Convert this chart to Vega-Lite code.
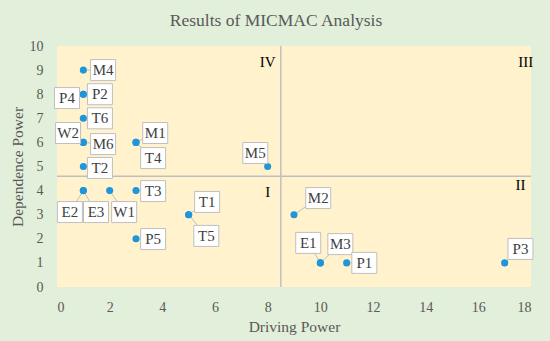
{
  "$schema": "https://vega.github.io/schema/vega-lite/v6.json",
  "width": 474,
  "height": 241,
  "autosize": {"type": "none"},
  "padding": {"left": 57, "top": 46, "right": 19, "bottom": 54},
  "background": "#E2EFDA",
  "config": {
    "view": {"fill": "#FFF2CC", "stroke": null},
    "font": "Liberation Serif",
    "axis": {
      "domain": false, "ticks": false, "tickSize": 0, "grid": false, "labelOverlap": false,
      "labelColor": "#595959", "labelFontSize": 14, "labelFont": "Liberation Serif",
      "titleColor": "#595959", "titleFontSize": 15.5, "titleFont": "Liberation Serif", "titleFontWeight": "normal"
    },
    "axisX": {"labelPadding": 13, "titlePadding": 5, "tickCount": 9},
    "axisY": {"labelPadding": 14, "titlePadding": 4, "tickCount": 10}
  },
  "title": {"text": "Results of MICMAC Analysis", "fontSize": 17.5, "font": "Liberation Serif", "fontWeight": "normal", "color": "#595959", "offset": 10, "dx": -18},
  "datasets": {
    "pts": [
      {"id": "M4", "x": 1, "y": 9, "lx": 1.75, "ly": 9.0},
      {"id": "P2", "x": 1, "y": 8, "lx": 1.63, "ly": 8.0},
      {"id": "P4", "x": 1, "y": 8, "lx": 0.38, "ly": 7.84},
      {"id": "T6", "x": 1, "y": 7, "lx": 1.63, "ly": 7.0},
      {"id": "W2", "x": 1, "y": 6, "lx": 0.42, "ly": 6.39},
      {"id": "M6", "x": 1, "y": 6, "lx": 1.75, "ly": 5.93},
      {"id": "T2", "x": 1, "y": 5, "lx": 1.63, "ly": 4.94},
      {"id": "M1", "x": 3, "y": 6, "lx": 3.73, "ly": 6.39},
      {"id": "T4", "x": 3, "y": 6, "lx": 3.65, "ly": 5.35},
      {"id": "M5", "x": 8, "y": 5, "lx": 7.53, "ly": 5.56},
      {"id": "E2", "x": 1, "y": 4, "lx": 0.49, "ly": 3.11},
      {"id": "E3", "x": 1, "y": 4, "lx": 1.48, "ly": 3.11},
      {"id": "W1", "x": 2, "y": 4, "lx": 2.55, "ly": 3.11},
      {"id": "T3", "x": 3, "y": 4, "lx": 3.65, "ly": 3.98},
      {"id": "T1", "x": 5, "y": 3, "lx": 5.7, "ly": 3.53},
      {"id": "T5", "x": 5, "y": 3, "lx": 5.67, "ly": 2.12},
      {"id": "P5", "x": 3, "y": 2, "lx": 3.65, "ly": 1.99},
      {"id": "M2", "x": 9, "y": 3, "lx": 9.92, "ly": 3.69},
      {"id": "E1", "x": 10, "y": 1, "lx": 9.54, "ly": 1.83},
      {"id": "M3", "x": 10, "y": 1, "lx": 10.76, "ly": 1.78},
      {"id": "P1", "x": 11, "y": 1, "lx": 11.67, "ly": 1.0},
      {"id": "P3", "x": 17, "y": 1, "lx": 17.6, "ly": 1.58}
    ],
    "quads": [
      {"q": "IV", "x": 8.0, "y": 9.34},
      {"q": "III", "x": 17.8, "y": 9.34},
      {"q": "I", "x": 8.0, "y": 3.94},
      {"q": "II", "x": 17.6, "y": 4.23}
    ],
    "vline": [{"v": 8.5}],
    "hline": [{"v": 4.6}]
  },
  "layer": [
    {
      "data": {"name": "vline"},
      "mark": {"type": "rule", "color": "#BFBFBF", "strokeWidth": 1.5},
      "encoding": {
        "x": {"field": "v", "type": "quantitative", "title": "Driving Power", "scale": {"domain": [0, 18], "nice": false}}
      }
    },
    {
      "data": {"name": "hline"},
      "mark": {"type": "rule", "color": "#BFBFBF", "strokeWidth": 1.5},
      "encoding": {
        "y": {"field": "v", "type": "quantitative", "title": "Dependence Power", "scale": {"domain": [0, 10], "nice": false}}
      }
    },
    {
      "data": {"name": "pts"},
      "mark": {"type": "rule", "color": "#BFBFBF", "strokeWidth": 1},
      "encoding": {
        "x": {"field": "x", "type": "quantitative", "title": "Driving Power"},
        "y": {"field": "y", "type": "quantitative", "title": "Dependence Power"},
        "x2": {"field": "lx"},
        "y2": {"field": "ly"}
      }
    },
    {
      "data": {"name": "pts"},
      "mark": {"type": "circle", "color": "#1F95DA", "opacity": 1, "size": 50},
      "encoding": {
        "x": {"field": "x", "type": "quantitative", "title": "Driving Power"},
        "y": {"field": "y", "type": "quantitative", "title": "Dependence Power"}
      }
    },
    {
      "data": {"name": "pts"},
      "mark": {"type": "point", "shape": "M-1,-0.84H1V0.84H-1Z", "size": 625, "filled": true, "fill": "#FFFFFF", "stroke": "#BFBFBF", "strokeWidth": 1, "opacity": 1, "fillOpacity": 1},
      "encoding": {
        "x": {"field": "lx", "type": "quantitative", "title": "Driving Power"},
        "y": {"field": "ly", "type": "quantitative", "title": "Dependence Power"}
      }
    },
    {
      "data": {"name": "pts"},
      "mark": {"type": "text", "fontSize": 15, "color": "#404040", "align": "center", "baseline": "middle", "font": "Liberation Serif"},
      "encoding": {
        "x": {"field": "lx", "type": "quantitative", "title": "Driving Power"},
        "y": {"field": "ly", "type": "quantitative", "title": "Dependence Power"},
        "text": {"field": "id"}
      }
    },
    {
      "data": {"name": "quads"},
      "mark": {"type": "text", "fontSize": 15, "color": "#000000", "align": "center", "baseline": "middle", "font": "Liberation Serif"},
      "encoding": {
        "x": {"field": "x", "type": "quantitative", "title": "Driving Power"},
        "y": {"field": "y", "type": "quantitative", "title": "Dependence Power"},
        "text": {"field": "q"}
      }
    }
  ]
}
